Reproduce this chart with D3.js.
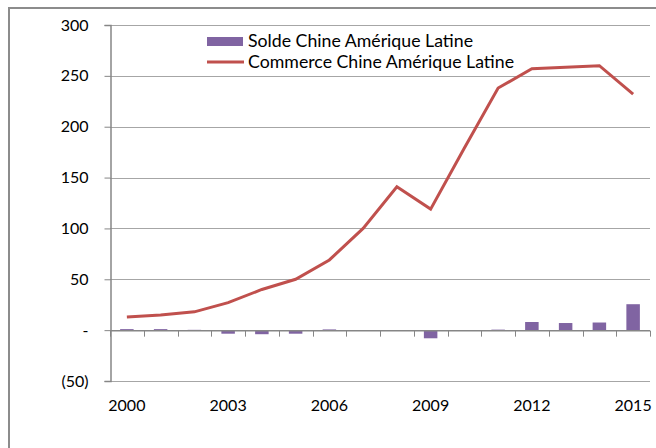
<!DOCTYPE html>
<html>
<head>
<meta charset="utf-8">
<script src="https://d3js.org/d3.v7.min.js"></script>
<title>Chine Amérique Latine</title>
<style>
body { margin: 0; background: #fff; }
text { font-family: Lato, "Open Sans", sans-serif; fill: #000; }
</style>
</head>
<body>
<script>

// données
var annees = [2000, 2001, 2002, 2003, 2004, 2005, 2006, 2007, 2008, 2009, 2010, 2011, 2012, 2013, 2014, 2015];
var solde = [1, 1, 0.3, -3.5, -4, -3.5, 0.7, 0, -0.5, -8, 0, 0.5, 8, 7, 7.5, 25.5];
var commerce = [13, 15, 18, 27, 40, 50, 69, 100, 141, 119, 179, 238, 257, 258.5, 260, 232];
var yTicks = [-50, 0, 50, 100, 150, 200, 250, 300];
var xLabels = [2000, 2003, 2006, 2009, 2012, 2015];
var series = ["Solde Chine Amérique Latine", "Commerce Chine Amérique Latine"];
var legendWidths = [225, 266];

var width = 656,
    height = 448;

var svg = d3.select( "body" )
  .append( "svg" )
  .attr( "width", width )
  .attr( "height", height );

// cadre du graphique
svg.append( "rect" )
  .attr( "x", 9 ).attr( "y", 8 )
  .attr( "width", 700 ).attr( "height", 500 )
  .attr( "fill", "none" )
  .attr( "stroke", "#8c8c8c" )
  .attr( "stroke-width", 2 );

var x = d3.scaleBand()
    .domain( annees )
    .range( [110, 650] )
    .paddingInner( 0.6 )
    .paddingOuter( 0.3 );

var xb = d3.scaleBand().domain( annees ).range( [110, 650] );

var y = d3.scaleLinear()
    .domain( [-50, 300] )
    .range( [381, 25] );

// grille
svg.append( "g" )
  .selectAll( "line" )
  .data( yTicks.filter(function(d) { return d != 0; }) )
  .enter()
  .append( "line" )
  .attr( "x1", 110 ).attr( "x2", 650 )
  .attr( "y1", function(d) { return Math.round(y(d)) + 0.5; } )
  .attr( "y2", function(d) { return Math.round(y(d)) + 0.5; } )
  .attr( "stroke", "#a6a6a6" );

// axe y
var yAxis = svg.append( "g" )
  .attr( "transform", "translate(110.5,0)" )
  .call( d3.axisLeft(y).tickValues(yTicks).tickSize(6).tickPadding(16)
    .tickFormat(function(d) { return d == 0 ? "-" : d < 0 ? "(" + (-d) + ")" : d; }) );
yAxis.selectAll( "line" ).attr( "stroke", "#868686" );
yAxis.select( ".domain" ).attr( "stroke", "#868686" ).attr( "stroke-width", 1.5 );
yAxis.selectAll( "text" ).style( "font-size", "16px" ).style( "font-family", "Lato" );

// barres
svg.append( "g" )
  .selectAll( "rect" )
  .data( solde )
  .enter()
  .append( "rect" )
  .attr( "x", function(d, i) { return x(annees[i]); } )
  .attr( "width", x.bandwidth() )
  .attr( "y", function(d) { return y(Math.max(0, d)); } )
  .attr( "height", function(d) { return Math.abs(y(d) - y(0)); } )
  .attr( "fill", "#8064a2" );

// axe x au niveau zéro
var xAxis = svg.append( "g" )
  .attr( "transform", "translate(0," + (y(0) + 0.5) + ")" );
xAxis.append( "line" )
  .attr( "x1", 110 ).attr( "x2", 650 )
  .attr( "stroke", "#868686" ).attr( "stroke-width", 1.5 );
xAxis.selectAll( "line.tick" )
  .data( annees.concat(["fin"]) )
  .enter()
  .append( "line" )
  .attr( "class", "tick" )
  .attr( "x1", function(d, i) { return Math.round(110 + i * xb.step()) + 0.5; } )
  .attr( "x2", function(d, i) { return Math.round(110 + i * xb.step()) + 0.5; } )
  .attr( "y1", 0 ).attr( "y2", 6 )
  .attr( "stroke", "#868686" );

// étiquettes x
svg.append( "g" )
  .selectAll( "text" )
  .data( xLabels )
  .enter()
  .append( "text" )
  .attr( "x", function(d) { return xb(d) + xb.bandwidth() / 2; } )
  .attr( "y", 411 )
  .attr( "text-anchor", "middle" )
  .style( "font-size", "16px" )
  .text( function(d) { return d; } );

// ligne
var line = d3.line()
  .x( function(d, i) { return xb(annees[i]) + xb.bandwidth() / 2; } )
  .y( function(d) { return y(d); } );

svg.append( "path" )
  .datum( commerce )
  .attr( "d", line )
  .attr( "fill", "none" )
  .attr( "stroke", "#c0504d" )
  .attr( "stroke-width", 3 );

// légende
var leg = svg.append( "g" );
leg.append( "rect" )
  .attr( "x", 207 ).attr( "y", 37 )
  .attr( "width", 36 ).attr( "height", 9 )
  .attr( "fill", "#8064a2" );
leg.append( "line" )
  .attr( "x1", 207 ).attr( "x2", 244 )
  .attr( "y1", 62 ).attr( "y2", 62 )
  .attr( "stroke", "#c0504d" ).attr( "stroke-width", 3 );
leg.selectAll( "text" )
  .data( series )
  .enter()
  .append( "text" )
  .attr( "x", 248 )
  .attr( "y", function(d, i) { return 46.5 + i * 21; } )
  .attr( "textLength", function(d, i) { return legendWidths[i]; } )
  .attr( "lengthAdjust", "spacingAndGlyphs" )
  .style( "font-size", "16.5px" )
  .text( function(d) { return d; } );

</script>
</body>
</html>
